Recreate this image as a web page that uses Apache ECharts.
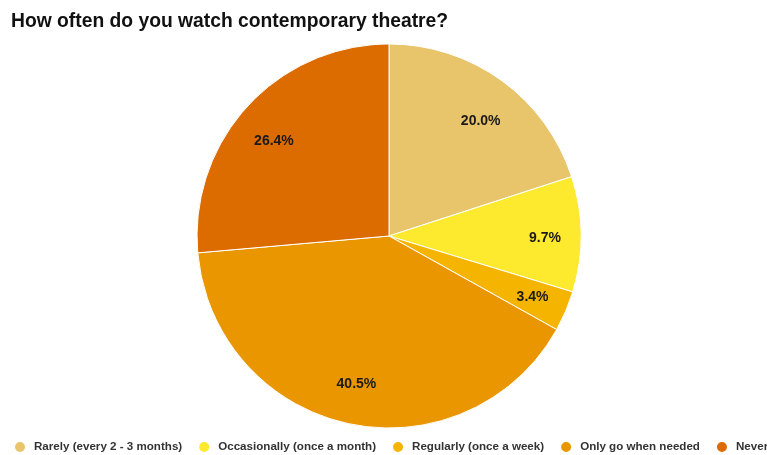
<!DOCTYPE html>
<html>
<head>
<meta charset="utf-8">
<script src="https://cdn.jsdelivr.net/npm/echarts@6/dist/echarts.min.js"></script>
<style>
  html, body { margin: 0; padding: 0; background: #fff; }
  #chart { width: 767px; height: 455px; }
</style>
</head>
<body>
<div id="chart"></div>
<script>
// Survey answers and their shares (percent)
const categories = [
  'Rarely (every 2 - 3 months)',
  'Occasionally (once a month)',
  'Regularly (once a week)',
  'Only go when needed',
  'Never'
];
const shares = [20.0, 9.7, 3.4, 40.5, 26.4];
const sliceColors = ['#E8C46B', '#FDE92E', '#F5B400', '#EA9600', '#DC6B00'];

const CX = 389, CY = 236, R = 192;
// percentage labels sit on a slightly flattened ring inside the slices
const LABEL_RX = 156, LABEL_RY = 147, LABEL_SHIFT_Y = 4;

const chart = echarts.init(document.getElementById('chart'), null, { renderer: 'canvas' });

chart.setOption({
  animation: false,
  title: {
    text: 'How often do you watch contemporary theatre?',
    left: 11,
    top: 12,
    padding: 0,
    textStyle: {
      fontFamily: 'Liberation Sans, Arial, sans-serif',
      fontSize: 19.3,
      fontWeight: 'bold',
      color: '#111'
    }
  },
  legend: {
    left: 13,
    top: 440,
    width: 1000,
    padding: 0,
    icon: 'circle',
    itemWidth: 12,
    itemHeight: 12,
    itemGap: 15,
    textStyle: {
      fontFamily: 'Liberation Sans, Arial, sans-serif',
      fontSize: 11.6,
      fontWeight: 'bold',
      color: '#333',
      padding: [0, 0, 0, 3]
    },
    data: categories
  },
  series: [{
    type: 'pie',
    center: [CX, CY],
    radius: [0, R],
    startAngle: 90,
    clockwise: true,
    color: sliceColors,
    itemStyle: { borderColor: '#fff', borderWidth: 1 },
    label: {
      show: true,
      position: 'inside',
      formatter: p => p.value.toFixed(1) + '%',
      fontFamily: 'Liberation Sans, Arial, sans-serif',
      fontSize: 14,
      fontWeight: 'bold',
      color: '#1a1a1a'
    },
    labelLayout: function (params) {
      const r = params.labelRect;
      const lx = r.x + r.width / 2, ly = r.y + r.height / 2;
      const dx = lx - CX, dy = ly - CY;
      const d = Math.sqrt(dx * dx + dy * dy) || 1;
      return {
        x: CX + dx / d * LABEL_RX,
        y: CY + LABEL_SHIFT_Y + dy / d * LABEL_RY,
        align: 'center',
        verticalAlign: 'middle'
      };
    },
    emphasis: { disabled: true },
    data: categories.map((name, i) => ({ name: name, value: shares[i] }))
  }]
});
</script>
</body>
</html>
